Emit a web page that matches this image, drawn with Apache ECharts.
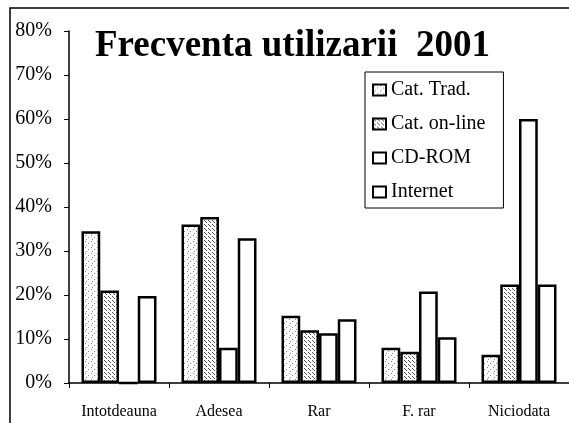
<!DOCTYPE html>
<html>
<head>
<meta charset="utf-8">
<script src="https://cdn.jsdelivr.net/npm/echarts@6/dist/echarts.min.js"></script>
<style>
    html, body { margin: 0; padding: 0; background: #fff; }
    #main { width: 569px; height: 423px; }
</style>
</head>
<body>
<div id="main"></div>
<script>
    var categories = ['Intotdeauna', 'Adesea', 'Rar', 'F. rar', 'Niciodata'];
    var catTrad = [34.5, 36, 15.3, 8, 6.4];
    var catOnline = [21, 37.7, 12, 7.1, 22.4];
    var cdRom = [0, 8, 11.3, 20.8, 60];
    var internet = [19.8, 32.9, 14.5, 10.4, 22.4];
    var seriesNames = ['Cat. Trad.', 'Cat. on-line', 'CD-ROM', 'Internet'];

    // small dotted fills like the scanned stipple
    var makePattern = function(size, dots, shade) {
        var c = document.createElement('canvas');
        c.width = size;
        c.height = size;
        var ctx = c.getContext('2d');
        ctx.fillStyle = '#fff';
        ctx.fillRect(0, 0, size, size);
        ctx.fillStyle = shade;
        for (var i = 0; i < dots.length; i++) {
            ctx.fillRect(dots[i][0], dots[i][1], 1, 1);
        }
        return { image: c, repeat: 'repeat' };
    }
    var sparse = makePattern(6, [[1, 1], [4, 3], [2, 5]], '#888');
    var dense = makePattern(4, [[0, 0], [2, 2], [1, 1]], '#555');
    var fills = [sparse, dense, '#fff', '#fff'];
    var values = [catTrad, catOnline, cdRom, internet];

    var series = [];
    for (var i = 0; i < seriesNames.length; i++) {
        series.push({
            name: seriesNames[i],
            type: 'bar',
            barGap: '0%',
            barCategoryGap: '25%',
            itemStyle: {
                color: fills[i],
                borderColor: '#000',
                borderWidth: 2.5
            },
            data: values[i]
        });
    }

    var serif = 'Liberation Serif';
    var option = {
        animation: false,
        backgroundColor: '#fff',
        title: {
            text: 'Frecventa utilizarii  2001',
            left: 90,
            top: 23,
            textStyle: {
                fontFamily: serif,
                fontWeight: 'bold',
                fontSize: 37,
                color: '#000'
            }
        },
        legend: {
            orient: 'vertical',
            left: 365,
            top: 72,
            padding: [7, 18, 5, 7],
            backgroundColor: '#fff',
            borderColor: '#000',
            borderWidth: 1,
            itemWidth: 13,
            itemHeight: 11,
            itemGap: 12,
            icon: 'rect',
            itemStyle: { borderColor: '#000', borderWidth: 2 },
            textStyle: {
                fontFamily: serif,
                fontSize: 20,
                lineHeight: 22,
                color: '#000'
            },
            data: seriesNames
        },
        grid: {
            left: 69,
            top: 31,
            width: 503,
            height: 352
        },
        xAxis: {
            type: 'category',
            data: categories,
            axisLine: { lineStyle: { color: '#000', width: 1.5 } },
            axisTick: { show: true, length: 5, lineStyle: { color: '#000' } },
            axisLabel: {
                margin: 21,
                fontFamily: serif,
                fontSize: 16,
                color: '#000'
            }
        },
        yAxis: {
            type: 'value',
            min: 0,
            max: 80,
            interval: 10,
            splitLine: { show: false },
            axisLine: { show: true, lineStyle: { color: '#000', width: 1.5 } },
            axisTick: { show: true, length: 5, lineStyle: { color: '#000' } },
            axisLabel: {
                formatter: '{value}%',
                margin: 17,
                fontFamily: serif,
                fontSize: 20,
                color: '#000'
            }
        },
        graphic: [{
            type: 'polyline',
            shape: { points: [[10, 430], [10, 8], [575, 8]] },
            style: { stroke: '#000', lineWidth: 1.5, fill: null }
        }],
        series: series
    };
    var myChart = echarts.init(document.getElementById('main'));
    myChart.setOption(option);
</script>
</body>
</html>
